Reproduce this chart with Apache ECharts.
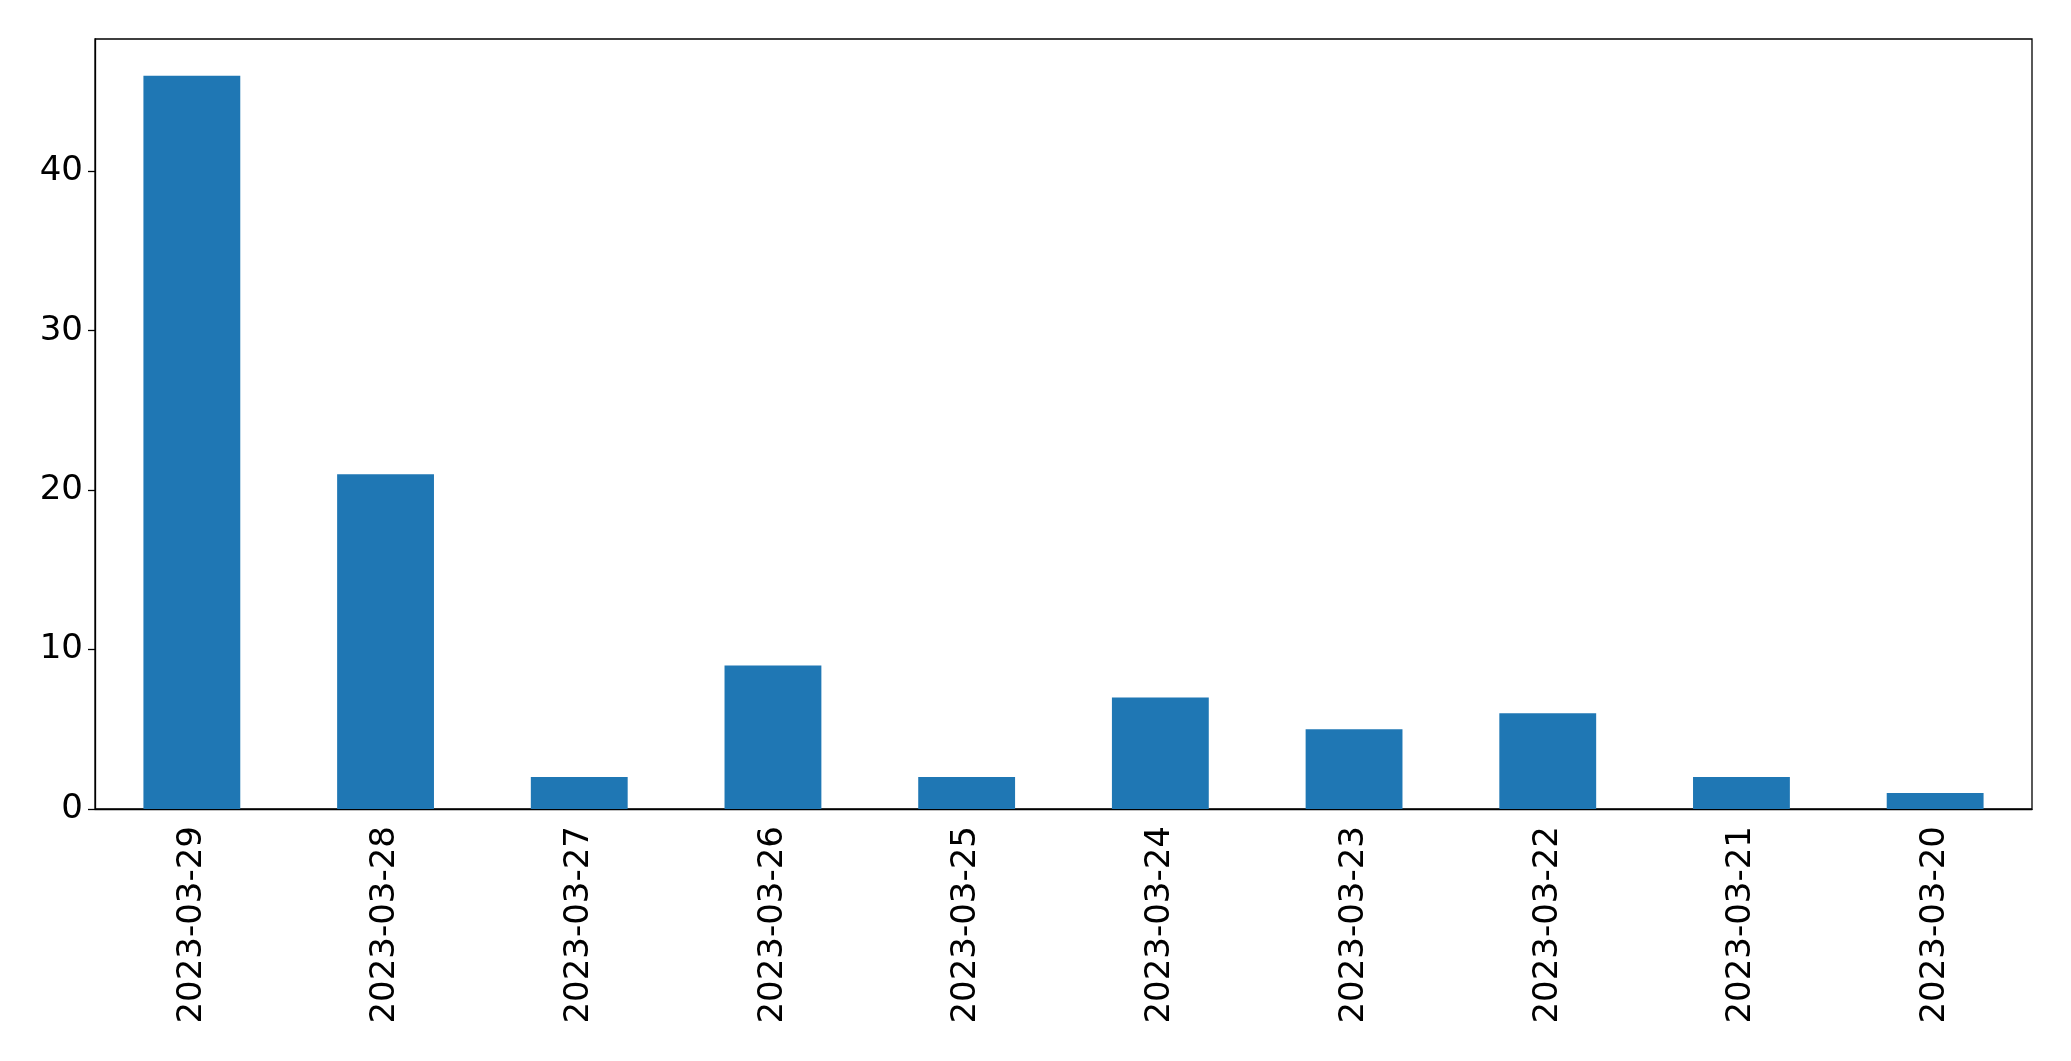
<!DOCTYPE html>
<html lang="en">
<head>
    <meta charset="UTF-8">
    <title>daily counts</title>
    <style>
        * { margin: 0; padding: 0; box-sizing: border-box; }
        html, body { background: #fff; }
        .chart { width: 2071px; height: 1061px; }
    </style>
</head>
<body>
<div class="chart" id="chart"></div>

<script src="https://cdn.jsdelivr.net/npm/echarts@6.0.0/dist/echarts.min.js"></script>
<script>
    // data
    const dates = ['2023-03-29', '2023-03-28', '2023-03-27', '2023-03-26', '2023-03-25',
                   '2023-03-24', '2023-03-23', '2023-03-22', '2023-03-21', '2023-03-20']
    const counts = [46, 21, 2, 9, 2, 7, 5, 6, 2, 1]
    const yTicks = [0, 10, 20, 30, 40]

    const font = 'DejaVu Sans'
    const myChart = echarts.init(document.getElementById('chart'))

    const option = {
        animation: false,
        grid: {
            left: 95, right: 39, top: 39, bottom: 252,
            show: true, borderColor: '#000', borderWidth: 1.3
        },
        xAxis: {
            type: 'category',
            data: dates,
            axisLine: { lineStyle: { color: '#000', width: 1.3 } },
            axisTick: { alignWithLabel: true, length: 7, lineStyle: { color: '#000', width: 1.3 } },
            axisLabel: { rotate: 90, margin: 17, color: '#000', fontFamily: font, fontSize: 34 }
        },
        yAxis: {
            type: 'value',
            min: 0,
            max: 48.3,
            splitLine: { show: false },
            axisLine: { show: true, lineStyle: { color: '#000', width: 1.3 } },
            axisTick: { show: true, length: 7, customValues: yTicks, lineStyle: { color: '#000', width: 1.3 } },
            axisLabel: { customValues: yTicks, margin: 12, color: '#000', fontFamily: font, fontSize: 34 }
        },
        series: [{
            type: 'bar',
            data: counts,
            barWidth: '50%',
            itemStyle: { color: '#1f77b4' }
        }]
    }

    myChart.setOption(option)
</script>
</body>
</html>
